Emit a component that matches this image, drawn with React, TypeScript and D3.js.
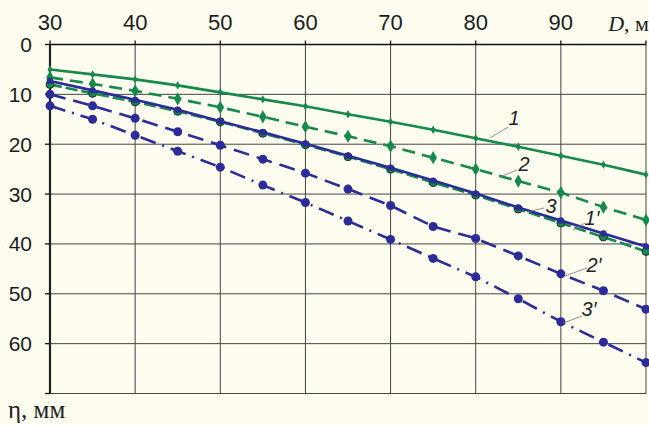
import * as d3 from "d3";
import React from "react";

// diameters, m
const dValues = [30, 35, 40, 45, 50, 55, 60, 65, 70, 75, 80, 85, 90, 95, 100];
const xTicks = [30, 40, 50, 60, 70, 80, 90];
const yTicks = [0, 10, 20, 30, 40, 50, 60];

// deflection, mm
const green1 = [5.0, 6.0, 7.0, 8.2, 9.6, 11.0, 12.4, 14.0, 15.5, 17.1, 18.8, 20.5, 22.3, 24.1, 26.1];
const green2 = [6.6, 7.9, 9.3, 10.9, 12.6, 14.5, 16.5, 18.4, 20.4, 22.7, 25.0, 27.4, 29.7, 32.6, 35.2];
const green3 = [8.0, 9.8, 11.5, 13.4, 15.5, 17.8, 20.1, 22.5, 25.0, 27.7, 30.2, 33.0, 35.8, 38.6, 41.5];
const blue1 = [7.3, 9.2, 11.1, 13.1, 15.4, 17.6, 19.9, 22.3, 24.7, 27.3, 29.9, 32.7, 35.3, 37.9, 40.5];
const blue2 = [10.0, 12.3, 14.8, 17.5, 20.2, 23.0, 25.8, 29.0, 32.3, 36.5, 38.9, 42.4, 46.0, 49.4, 53.1];
const blue3 = [12.3, 15.0, 18.2, 21.4, 24.6, 28.2, 31.7, 35.4, 39.1, 42.9, 46.6, 51.0, 55.6, 59.7, 63.8];

const GREEN = "#16894c";
const BLUE = "#2b2c98";

const series = [
  { values: green3, color: GREEN, dash: "12,4", marker: "ring", r: 4 },
  { values: green1, color: GREEN, dash: null, marker: "diamond", r: 2.8 },
  { values: green2, color: GREEN, dash: "13,7", marker: "diamond", r: 4.4 },
  { values: blue1, color: BLUE, dash: null, marker: "circle", r: 3.2 },
  { values: blue2, color: BLUE, dash: "16,8", marker: "circle", r: 4.5 },
  { values: blue3, color: BLUE, dash: "16,7,2,7", marker: "circle", r: 4.5 },
];

// curve labels with leader lines
const labels = [
  { text: "1", lx: 514, ly: 118, x1: 508, y1: 127, x2: 490, y2: 138 },
  { text: "2", lx: 524, ly: 164, x1: 517, y1: 170, x2: 500, y2: 177 },
  { text: "3", lx: 551, ly: 206, x1: 544, y1: 208, x2: 527, y2: 212 },
  { text: "1′", lx: 592, ly: 218, x1: 585, y1: 223, x2: 573, y2: 230 },
  { text: "2′", lx: 594, ly: 265, x1: 587, y1: 268, x2: 565, y2: 276 },
  { text: "3′", lx: 589, ly: 309, x1: 582, y1: 316, x2: 563, y2: 323 },
];

const W = 649;
const H = 425;
const SANS = "Liberation Sans, Arial, sans-serif";
const SERIF = "Liberation Serif, Times New Roman, serif";

export default function App() {
  const x = d3.scaleLinear().domain([30, 100]).range([50, 646]);
  const y = d3.scaleLinear().domain([0, 70]).range([44.5, 393.5]);
  const line = d3
    .line<number>()
    .x((_, i) => x(dValues[i]))
    .y((v) => y(v));
  const diamond = d3.symbol().type(d3.symbolDiamond);

  return (
    <svg
      width={W}
      height={H}
      style={{ position: "absolute", left: 0, top: 0, background: "#fefdf0" }}
    >
      <rect x={0} y={0} width={W} height={H} fill="#fefdf0" />
      {/* grid */}
      {d3.range(40, 101, 10).map((t) => (
        <line key={"vx" + t} x1={x(t)} x2={x(t)} y1={y(0)} y2={y(70)} stroke="#444" strokeWidth={1} />
      ))}
      {d3.range(10, 71, 10).map((t) => (
        <line key={"hy" + t} x1={x(30)} x2={x(100)} y1={y(t)} y2={y(t)} stroke="#444" strokeWidth={1} />
      ))}
      {/* axes */}
      <line x1={x(30)} x2={x(100)} y1={y(0)} y2={y(0)} stroke="#111" strokeWidth={1.3} />
      <line x1={x(30)} x2={x(30)} y1={y(0)} y2={y(70)} stroke="#222" strokeWidth={2.2} />
      {xTicks.concat([100]).map((t) => (
        <line key={"xt" + t} x1={x(t)} x2={x(t)} y1={y(0) - 4} y2={y(0)} stroke="#111" strokeWidth={1.3} />
      ))}
      {yTicks.concat([70]).map((t) => (
        <line key={"yt" + t} x1={x(30) - 5} x2={x(30)} y1={y(t)} y2={y(t)} stroke="#111" strokeWidth={1.3} />
      ))}
      {xTicks.map((t) => (
        <text key={"xl" + t} x={x(t)} y={30} textAnchor="middle" fontFamily={SANS} fontSize={22} fill="#1c1c1c">
          {t}
        </text>
      ))}
      {yTicks.map((t) => (
        <text key={"yl" + t} x={32} y={y(t) + 7.5} textAnchor="end" fontFamily={SANS} fontSize={21} fill="#1c1c1c">
          {t}
        </text>
      ))}
      <text x={649} y={31} textAnchor="end" fontFamily={SERIF} fontSize={22} fill="#222">
        <tspan fontStyle="italic">D</tspan>, м
      </text>
      <text x={8} y={418} fontFamily={SERIF} fontSize={25} fill="#222">
        η, мм
      </text>
      {/* curves */}
      {series.map((s, k) => (
        <g key={"s" + k}>
          <path
            d={line(s.values) || ""}
            fill="none"
            stroke={s.color}
            strokeWidth={2.6}
            strokeDasharray={s.dash || undefined}
          />
          {s.values.map((v, i) =>
            s.marker === "circle" ? (
              <circle key={i} cx={x(dValues[i])} cy={y(v)} r={s.r} fill={s.color} />
            ) : s.marker === "ring" ? (
              <circle key={i} cx={x(dValues[i])} cy={y(v)} r={s.r} fill={s.color} stroke="#133" strokeWidth={1} />
            ) : (
              <path
                key={i}
                d={diamond.size(s.r * s.r * 2.6)() || ""}
                transform={`translate(${x(dValues[i])},${y(v)})`}
                fill={s.color}
              />
            )
          )}
        </g>
      ))}
      {/* labels */}
      {labels.map((l) => (
        <g key={l.text}>
          <line x1={l.x1} y1={l.y1} x2={l.x2} y2={l.y2} stroke="#777" strokeWidth={0.8} />
          <text
            x={l.lx}
            y={l.ly + 7}
            textAnchor="middle"
            fontFamily={SANS}
            fontStyle="italic"
            fontSize={20}
            fill="#222"
          >
            {l.text}
          </text>
        </g>
      ))}
    </svg>
  );
}
